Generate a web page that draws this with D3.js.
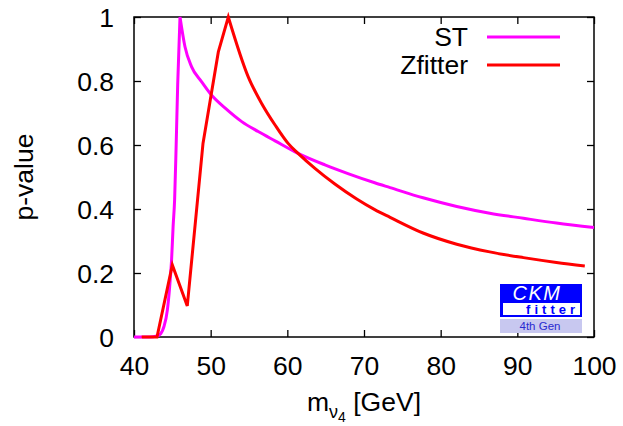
<!DOCTYPE html>
<html>
<head>
<meta charset="utf-8">
<script src="https://cdn.jsdelivr.net/npm/d3@7"></script>
<style>
  html, body { margin: 0; padding: 0; background: #fff; }
  text { font-family: "Liberation Sans", Arial, sans-serif; }
</style>
</head>
<body>
<svg id="chart" width="623" height="426"></svg>
<script>
// ---- data ----
const stMass = [40, 41, 42, 43, 43.5, 43.9, 44.35, 44.65, 44.9, 45.1, 45.3, 45.5, 45.7, 46.0, 46.65, 47.5, 48.8, 50.1, 51.9, 54.05, 56.2, 58.4, 61.4, 64.9, 68, 71.4, 73.4, 77.7, 82.1, 86.4, 90.8, 95.1, 100];
const stP    = [0, 0, 0, 0.003, 0.011, 0.032, 0.084, 0.157, 0.24, 0.345, 0.43, 0.6, 0.79, 1.0, 0.907, 0.845, 0.798, 0.756, 0.715, 0.673, 0.642, 0.613, 0.574, 0.538, 0.51, 0.482, 0.467, 0.435, 0.408, 0.387, 0.371, 0.356, 0.342];
const zfMass = [41, 43, 45, 46.95, 49, 51, 52.3, 54.9, 56.65, 58.4, 60.1, 61.4, 63.6, 66.2, 69, 71.4, 73.4, 77.7, 82.1, 86.4, 90.8, 95.1, 98.8];
const zfP    = [0, 0, 0.225, 0.097, 0.605, 0.891, 1.0, 0.813, 0.73, 0.6625, 0.605, 0.574, 0.527, 0.478, 0.432, 0.398, 0.374, 0.325, 0.29, 0.266, 0.248, 0.233, 0.222];
const xTicks = [40, 50, 60, 70, 80, 90, 100];
const yTicks = [0, 0.2, 0.4, 0.6, 0.8, 1];
const seriesNames = ["ST", "Zfitter"];
const seriesColors = ["#ff00ff", "#ff0000"];

// ---- layout ----
const svg = d3.select("#chart");
const L = 134, R = 594, T = 17, B = 337;
const x = d3.scaleLinear().domain([40, 100]).range([L, R]);
const y = d3.scaleLinear().domain([0, 1]).range([B, T]);
const tickLen = 7;
const fs = 26.5;

// frame
svg.append("rect").attr("x", L).attr("y", T).attr("width", R - L).attr("height", B - T)
  .attr("fill", "none").attr("stroke", "#000").attr("stroke-width", 1.5);

// inward ticks via axes
const axB = d3.axisBottom(x).tickValues(xTicks).tickSize(-tickLen).tickFormat(d => d);
const gB = svg.append("g").attr("transform", `translate(0,${B})`).call(axB);
const axT = d3.axisTop(x).tickValues(xTicks).tickSize(-tickLen).tickFormat("");
const gT = svg.append("g").attr("transform", `translate(0,${T})`).call(axT);
const axL = d3.axisLeft(y).tickValues(yTicks).tickSize(-tickLen).tickFormat(d => d);
const gL = svg.append("g").attr("transform", `translate(${L},0)`).call(axL);
const axR = d3.axisRight(y).tickValues(yTicks).tickSize(-tickLen).tickFormat("");
const gR = svg.append("g").attr("transform", `translate(${R},0)`).call(axR);
[gB, gT, gL, gR].forEach(g => {
  g.select(".domain").remove();
  g.selectAll(".tick line").attr("stroke", "#000").attr("stroke-width", 1.3);
});
gB.selectAll(".tick text").attr("font-size", fs).attr("fill", "#000")
  .attr("font-family", "Liberation Sans, Arial, sans-serif")
  .attr("dy", null).attr("y", 38);
gL.selectAll(".tick text").attr("font-size", fs).attr("fill", "#000")
  .attr("font-family", "Liberation Sans, Arial, sans-serif")
  .attr("x", -20).attr("dy", "0.36em");

// axis titles
svg.append("text").attr("transform", `translate(33,${(T + B) / 2}) rotate(-90)`)
  .attr("text-anchor", "middle").attr("font-size", fs).text("p-value");
const xl = svg.append("text").attr("x", (L + R) / 2).attr("y", 411)
  .attr("text-anchor", "middle").attr("font-size", fs);
xl.append("tspan").text("m");
xl.append("tspan").attr("font-size", 18).attr("dy", 7).text("ν");
xl.append("tspan").attr("font-size", 14).attr("dy", 4).text("4");
xl.append("tspan").attr("dy", -11).text(" [GeV]");

// curves: sharp corners kept at the peaks, smooth elsewhere
const lineLin = d3.line().x(d => x(d[0])).y(d => y(d[1])).curve(d3.curveLinear);
const lineMono = d3.line().x(d => x(d[0])).y(d => y(d[1])).curve(d3.curveMonotoneX);
const stData = stMass.map((m, i) => [m, stP[i]]);
const zfData = zfMass.map((m, i) => [m, zfP[i]]);
const stPeak = stP.indexOf(d3.max(stP));
const zfPeak = zfP.indexOf(d3.max(zfP));
const stPath = lineMono(stData.slice(0, stPeak + 1)) + lineMono(stData.slice(stPeak)).replace(/^M[^A-Za-z]*/, "L" + x(stData[stPeak][0]) + "," + y(stData[stPeak][1]));
const zfPath = lineLin(zfData.slice(0, zfPeak + 1)) + lineMono(zfData.slice(zfPeak)).replace(/^M[^A-Za-z]*/, "L" + x(zfData[zfPeak][0]) + "," + y(zfData[zfPeak][1]));
[stPath, zfPath].forEach((p, i) => {
  svg.append("path").attr("d", p)
    .attr("fill", "none").attr("stroke", seriesColors[i]).attr("stroke-width", 3)
    .attr("stroke-linejoin", "miter");
});

// legend
seriesNames.forEach((n, i) => {
  const yy = 37 + i * 28;
  svg.append("text").attr("x", 468).attr("y", yy + 9).attr("text-anchor", "end")
    .attr("font-size", fs).text(n);
  svg.append("line").attr("x1", 487).attr("x2", 560).attr("y1", yy).attr("y2", yy)
    .attr("stroke", seriesColors[i]).attr("stroke-width", 3);
});

// CKMfitter logo
const lg = svg.append("g");
lg.append("rect").attr("x", 500).attr("y", 284).attr("width", 82).attr("height", 33).attr("fill", "#0000ff");
lg.append("rect").attr("x", 503).attr("y", 303).attr("width", 77).attr("height", 12).attr("fill", "#fff");
lg.append("text").attr("x", 537).attr("y", 299.5).attr("text-anchor", "middle")
  .attr("font-size", 20).attr("font-style", "italic").attr("fill", "#fff")
  .attr("letter-spacing", 1.5).text("CKM");
lg.append("text").attr("x", 579).attr("y", 314).attr("text-anchor", "end")
  .attr("font-size", 13).attr("font-weight", "bold").attr("fill", "#0000ff")
  .attr("letter-spacing", 4).text("fitter");
lg.append("rect").attr("x", 500).attr("y", 319).attr("width", 82).attr("height", 14).attr("fill", "#c8c8f0");
lg.append("text").attr("x", 540).attr("y", 330).attr("text-anchor", "middle")
  .attr("font-size", 11.5).attr("fill", "#2a2ad0").text("4th Gen");
</script>
</body>
</html>
